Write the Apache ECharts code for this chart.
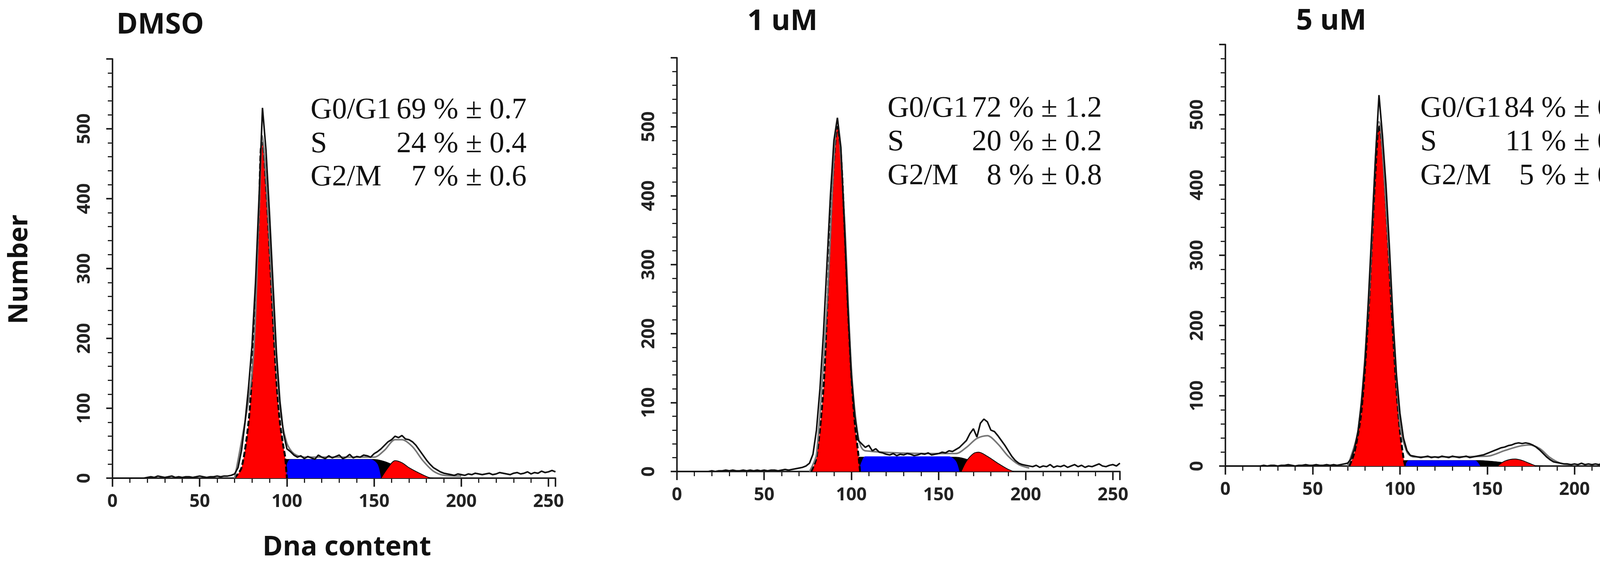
<!DOCTYPE html>
<html><head><meta charset="utf-8">
<script src="https://cdn.jsdelivr.net/npm/echarts@6/dist/echarts.min.js"></script>
<style>html,body{margin:0;padding:0;background:#fff}#c{width:4305px;height:1445px}</style>
</head><body><div id="c"></div>
<script>
// ---------- data ----------
const titles = ["DMSO", "1 uM", "5 uM"];
const phaseNames = ["G0/G1", "S", "G2/M"];
const phaseVals = [
  ["69 % \u00b1 0.7", "24 % \u00b1 0.4", "7 % \u00b1 0.6"],
  ["72 % \u00b1 1.2", "20 % \u00b1 0.2", "8 % \u00b1 0.8"],
  ["84 % \u00b1 0.9", "11 % \u00b1 0.2", "5 % \u00b1 0.6"]
];
const channelStep = 2; // raw histogram channels 0,2,...,254
const rawDMSO = [0,0,0,0,0,0,0,0,0,0,
 1,2,1,3,2,1,2,3,1,2,1,2,2,1,2,3,2,1,2,2,3,2,3,3,4,
 6,15,40,80,130,190,280,400,530,470,380,280,180,110,65,42,
 38,33,30,32,28,31,29,27,33,30,28,32,29,31,33,28,30,34,29,31,30,33,32,30,35,
 38,42,47,52,55,60,58,61,56,55,52,47,40,33,26,
 20,15,12,9,7,6,5,4,6,5,4,6,5,7,6,5,6,7,5,6,8,7,6,5,7,8,6,7,9,6,8,7,10,8,9,11,9];
const raw1uM = [0,0,0,0,0,0,0,0,0,0,
 1,0,1,1,2,1,2,1,1,2,1,2,1,2,1,2,1,2,2,1,2,3,2,3,4,5,
 6,8,12,25,60,120,200,300,400,480,513,470,360,240,140,80,45,
 40,35,38,30,33,28,27,25,24,26,23,25,24,26,25,23,24,26,25,27,24,25,26,28,27,30,29,32,
 35,40,45,55,62,50,70,76,72,60,58,52,45,38,30,22,16,12,10,9,
 8,7,9,6,8,7,10,6,8,7,9,6,8,10,7,9,6,8,7,9,11,8,7,9,10,8,12];
const raw5uM = [0,0,0,0,0,0,0,0,0,0,
 0,1,0,1,1,0,1,1,2,1,0,1,1,2,1,1,2,1,1,2,1,2,1,2,3,
 4,10,25,50,90,150,240,340,440,528,470,400,310,210,130,75,40,22,
 15,14,13,12,13,14,12,13,12,14,13,12,14,13,12,13,14,12,13,14,15,16,18,
 20,22,24,26,27,29,30,32,33,32,33,32,30,27,23,18,13,9,6,5,4,3,3,
 2,3,2,4,2,3,2,3,2,4,3,2,3,2,4,3,2,3,4,3,2,4,3,4,3,5,4,6,5];
const g1DMSO = [[70,0],[74,15],[78,80],[80,150],[82,260],[84,380],[85,470],[86,480],[88,420],[90,330],[92,230],[94,140],[96,80],[98,45],[99,30],[100,0]];
const sDMSO = [[78,0],[82,3],[86,10],[90,18],[94,24],[98,27],[150,27],[156,24],[162,18],[168,12],[174,6],[180,2],[184,0]];
const blueDMSO = [[99,0],[100,20],[102,27],[148,27],[152,20],[154,0]];
const g2DMSO = [[154,0],[158,15],[162,25],[166,22],[170,15],[176,7],[182,0]];
const fitDMSO = [[70,0],[80,150],[84,380],[86,490],[88,430],[92,250],[96,100],[100,50],[104,35],[110,30],[150,30],[156,40],[162,55],[166,55],[172,45],[178,25],[184,10],[190,4],[200,3]];
const g1_1uM = [[77,0],[80,20],[84,120],[86,230],[88,350],[90,450],[92,500],[94,460],[96,360],[98,240],[100,140],[102,70],[104,25],[105,0]];
const s_1uM = [[86,0],[90,5],[94,12],[98,18],[102,21],[160,21],[166,18],[172,12],[178,7],[184,3],[190,0]];
const blue_1uM = [[104,0],[106,15],[108,22],[156,22],[160,15],[162,0]];
const g2_1uM = [[163,0],[166,15],[170,26],[173,28],[178,22],[184,12],[190,3],[193,0]];
const fit_1uM = [[76,0],[80,25],[86,240],[92,505],[96,370],[100,150],[104,50],[108,30],[160,26],[166,35],[172,48],[178,52],[184,40],[190,22],[196,10],[202,5]];
const g1_5uM = [[71,0],[74,20],[78,80],[82,220],[84,320],[86,420],[88,485],[90,450],[92,370],[94,280],[96,190],[98,110],[100,50],[102,12],[103,0]];
const s_5uM = [[82,0],[90,3],[98,6],[104,8],[145,8],[152,7],[160,5],[168,3],[176,1],[182,0]];
const blue_5uM = [[103,0],[105,8],[143,8],[146,0]];
const g2_5uM = [[156,0],[160,7],[166,10],[170,8],[174,4],[178,0]];
const fit_5uM = [[70,0],[76,50],[82,230],[88,490],[94,290],[100,60],[104,20],[108,13],[150,14],[160,22],[168,28],[174,30],[180,25],[186,12],[192,4],[198,2]];

const panels = [
  {raw: rawDMSO, g1: g1DMSO, s: sDMSO, blue: blueDMSO, g2: g2DMSO, fit: fitDMSO},
  {raw: raw1uM, g1: g1_1uM, s: s_1uM, blue: blue_1uM, g2: g2_1uM, fit: fit_1uM},
  {raw: raw5uM, g1: g1_5uM, s: s_5uM, blue: blue_5uM, g2: g2_5uM, fit: fit_5uM}
];
// ---------- layout ----------
const grids = [
  {left: 288, width: 1134, top: 151, bottom: 220},
  {left: 1733, width: 1134, top: 148, bottom: 237},
  {left: 3137, width: 1135, top: 114, bottom: 251}
];
const titlePos = [[410, 65], [2003, 56], [3408, 55]];
const textLeft = [795, 2272, 3636];
const textRight = [1348, 2821, 4184];
const textY = [[283, 370, 455], [279, 365, 452], [279, 365, 452]];

const chart = echarts.init(document.getElementById('c'), null, {renderer: 'canvas'});
const option = {backgroundColor: '#fff', animation: false, grid: [], xAxis: [], yAxis: [], series: [], graphic: []};
const axisLbl = {fontFamily: 'Open Sans', fontWeight: 'bold', fontSize: 46, color: '#222'};
panels.forEach((p, i) => {
  option.grid.push(grids[i]);
  option.xAxis.push({type: 'value', gridIndex: i, min: 0, max: 254, interval: 50,
    axisLine: {onZero: false, lineStyle: {color: '#222', width: 4}},
    axisTick: {length: 22, lineStyle: {width: 4, color: '#222'}},
    minorTick: {show: true, splitNumber: 5, length: 12, lineStyle: {width: 3, color: '#222'}},
    splitLine: {show: false},
    axisLabel: Object.assign({margin: 38}, axisLbl)});
  option.yAxis.push({type: 'value', gridIndex: i, min: 0, max: 600, interval: 100,
    axisLine: {show: true, lineStyle: {color: '#222', width: 4}},
    axisTick: {length: 16, lineStyle: {width: 4, color: '#222'}},
    minorTick: {show: true, splitNumber: 5, length: 12, lineStyle: {width: 3, color: '#222'}},
    splitLine: {show: false},
    axisLabel: Object.assign({rotate: 90, margin: 48, formatter: v => v <= 500 ? String(v) : ''}, axisLbl)});
  const base = {type: 'line', xAxisIndex: i, yAxisIndex: i, showSymbol: false, symbol: 'none'};
  option.series.push(Object.assign({}, base, {data: p.s, smooth: 0.3, lineStyle: {width: 1, color: '#000'}, areaStyle: {color: '#000', opacity: 1}, z: 2}));
  option.series.push(Object.assign({}, base, {data: p.blue, smooth: 0.3, lineStyle: {width: 0}, areaStyle: {color: '#0000ff', opacity: 1}, z: 3}));
  option.series.push(Object.assign({}, base, {data: p.g2, smooth: 0.3, lineStyle: {width: 2, color: '#000'}, areaStyle: {color: '#ff0000', opacity: 1}, z: 3}));
  option.series.push(Object.assign({}, base, {data: p.g1, smooth: 0.3, lineStyle: {width: 5, color: '#000', type: [14, 6]}, areaStyle: {color: '#ff0000', opacity: 1}, z: 4}));
  option.series.push(Object.assign({}, base, {data: p.fit, smooth: 0.3, lineStyle: {width: 4, color: '#777'}, z: 5}));
  option.series.push(Object.assign({}, base, {data: p.raw.map((v, k) => [k * channelStep, v]), lineStyle: {width: 4, color: '#111'}, z: 6}));
  option.graphic.push({type: 'text', x: titlePos[i][0], y: titlePos[i][1], style: {text: titles[i], fontFamily: 'Open Sans', fontWeight: 'bold', fontSize: 74, fill: '#111', align: 'center', verticalAlign: 'middle'}});
  phaseNames.forEach((n, j) => {
    option.graphic.push({type: 'text', x: textLeft[i], y: textY[i][j], style: {text: n, fontFamily: 'Liberation Serif', fontSize: 76, fill: '#111', align: 'left', verticalAlign: 'middle'}});
    option.graphic.push({type: 'text', x: textRight[i], y: textY[i][j], style: {text: phaseVals[i][j], fontFamily: 'Liberation Serif', fontSize: 76, fill: '#111', align: 'right', verticalAlign: 'middle'}});
  });
});
option.graphic.push({type: 'text', x: 51, y: 690, rotation: Math.PI / 2, style: {text: 'Number', fontFamily: 'Open Sans', fontWeight: 'bold', fontSize: 68, fill: '#111', align: 'center', verticalAlign: 'middle'}});
option.graphic.push({type: 'text', x: 888, y: 1403, style: {text: 'Dna content', fontFamily: 'Open Sans', fontWeight: 'bold', fontSize: 70, fill: '#111', align: 'center', verticalAlign: 'middle'}});
chart.setOption(option);
</script></body></html>
